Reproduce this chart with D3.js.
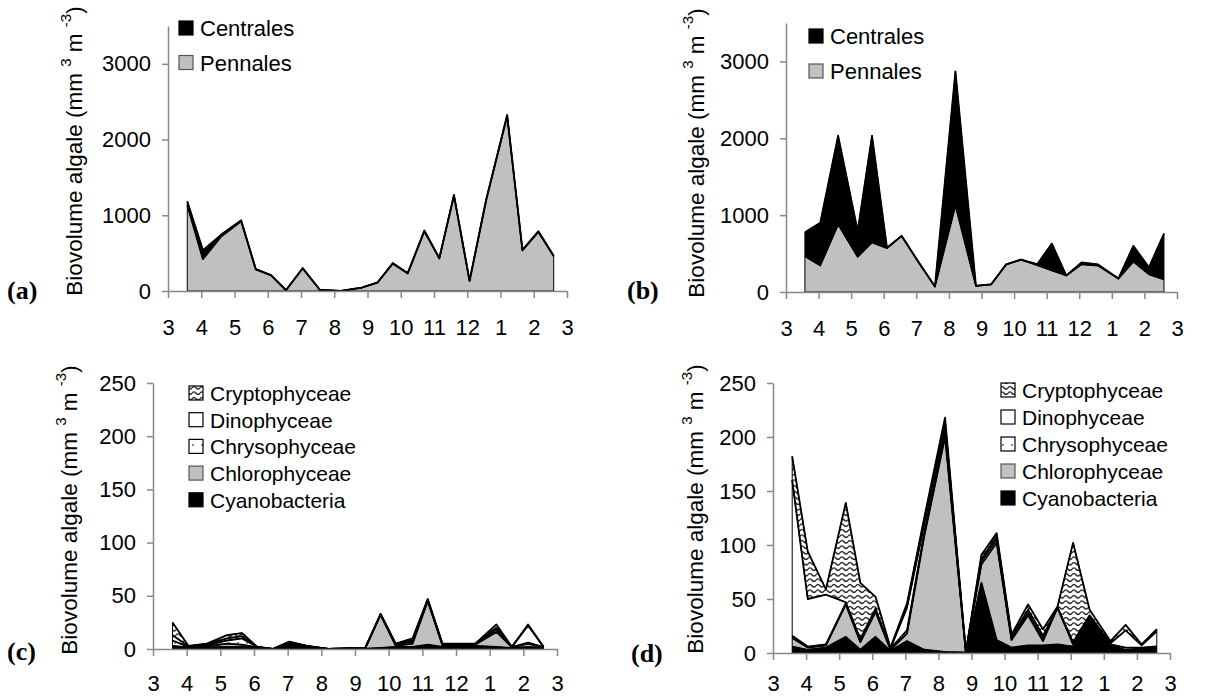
<!DOCTYPE html>
<html>
<head>
<meta charset="utf-8">
<script src="https://cdn.jsdelivr.net/npm/d3@7"></script>
<style>
body { margin: 0; background: #fff; }
text { font-family: "Liberation Sans", Arial, sans-serif; fill: #000; }
.axis path, .axis line { stroke: #888; stroke-width: 1.5; }
.axis text { font-size: 22px; font-family: "Liberation Sans", Arial, sans-serif; fill: #000; }
</style>
</head>
<body>
<svg id="fig" width="1222" height="699"></svg>
<script>
// sampling dates, in months counted from 1 March (0) to next March (12)
var months = [0.58, 1.05, 1.6, 2.2, 2.64, 3.1, 3.55, 4.05, 4.57, 5.2, 5.83, 6.3,
              6.76, 7.21, 7.71, 8.16, 8.6, 9.07, 9.57, 10.2, 10.66, 11.14, 11.6];
var monthLabels = ["3", "4", "5", "6", "7", "8", "9", "10", "11", "12", "1", "2", "3"];

// diatoms, mm3 m-3
var pennalesA  = [1134, 420, 720, 920, 285, 206, 10, 298, 13, 0, 44, 110, 360, 232, 789, 430, 1259, 132, 1200, 2310, 535, 780, 460];
var centralesA = [50, 120, 25, 15, 5, 5, 3, 5, 2, 2, 2, 3, 10, 5, 10, 5, 10, 5, 10, 15, 10, 10, 5];
var pennalesB  = [465, 345, 880, 458, 645, 572, 730, 400, 70, 1130, 80, 100, 360, 420, 350, 280, 215, 360, 345, 175, 395, 230, 165];
var centralesB = [313, 555, 1155, 337, 1390, 3, 0, 0, 0, 1740, 0, 0, 0, 0, 12, 350, 0, 25, 15, 0, 205, 92, 595];

// other groups, mm3 m-3
var cyanoC   = [2, 1, 1.5, 2, 2, 1, 0, 4, 2, 0, 0.3, 0.3, 1, 2, 2, 4, 2, 3, 3, 2, 1, 2, 1];
var chloroC  = [1, 0.5, 1, 3, 2, 0.5, 0, 1, 0.5, 0, 0.3, 0.3, 31, 1, 3, 41, 1, 1, 1, 14, 0.5, 3, 0.5];
var chrysoC  = [5, 0.5, 1, 3, 6, 0.5, 0, 1, 0.3, 0, 0, 0, 0.5, 1, 2, 1, 1, 0.5, 0.5, 2, 0.3, 1, 0.3];
var dinoC    = [5, 0.5, 1, 2, 2, 0, 0, 0.5, 0.2, 0, 0, 0, 0.3, 0.5, 1, 0.5, 0.5, 0.3, 0.3, 2, 0.2, 16, 0.2];
var cryptoC  = [12, 0.5, 0.5, 3, 3, 0, 0, 0.5, 0, 0, 0, 0, 0.2, 0.5, 2, 0.5, 0.5, 0.2, 0.2, 3, 0, 1, 0];

var cyanoD   = [6, 3, 5, 15, 3, 15, 2, 11, 3, 1, 0.5, 65, 12, 5, 7, 7, 8, 6, 30, 6, 2, 3, 5];
var chloroD  = [8, 2, 2, 30, 7, 23, 1, 7, 105, 199, 0.5, 17, 90, 7, 28, 4, 34, 2, 1, 1, 1, 1, 0];
var chrysoD  = [2, 1, 1, 1, 1, 1, 1, 3, 3, 6, 0, 3, 3, 1, 2, 2, 0, 1, 2, 1, 2, 1, 1];
var dinoD    = [144, 44, 46, 1, 2, 2, 0, 21, 8, 6, 0, 2, 3, 2, 3, 3, 0, 1, 2, 1, 16, 2, 14];
var cryptoD  = [22, 44, 5, 92, 52, 11, 1, 4, 6, 6, 0, 4, 3, 2, 5, 6, 1, 92, 5, 2, 5, 1, 2];

var diatomNames = ["Centrales", "Pennales"];
var groupNames = ["Cryptophyceae", "Dinophyceae", "Chrysophyceae", "Chlorophyceae", "Cyanobacteria"];

var svg = d3.select("#fig");
var defs = svg.append("defs");

// wavy hatch for Cryptophyceae
var wave = defs.append("pattern").attr("id", "wave")
  .attr("patternUnits", "userSpaceOnUse").attr("width", 8).attr("height", 5.5);
wave.append("rect").attr("width", 8).attr("height", 5.5).attr("fill", "#fff");
wave.append("path").attr("d", "M0,2.75 Q2,0.3 4,2.75 T8,2.75")
  .attr("fill", "none").attr("stroke", "#000").attr("stroke-width", 1.2);

// sparse dots for Chrysophyceae
var dots = defs.append("pattern").attr("id", "dots")
  .attr("patternUnits", "userSpaceOnUse").attr("width", 9).attr("height", 9);
dots.append("rect").attr("width", 9).attr("height", 9).attr("fill", "#fff");
dots.append("circle").attr("cx", 4).attr("cy", 4).attr("r", 0.8).attr("fill", "#000");

var fills = {
  "Pennales": "#c0c0c0", "Centrales": "#000",
  "Cyanobacteria": "#000", "Chlorophyceae": "#c0c0c0",
  "Chrysophyceae": "url(#dots)", "Dinophyceae": "#fff", "Cryptophyceae": "url(#wave)"
};

function makeRows(keys, arrays) {
  return months.map(function(m, i) {
    var row = { m: m };
    keys.forEach(function(k, j) { row[k] = arrays[j][i]; });
    return row;
  });
}

function drawPanel(p) {
  var x = d3.scaleLinear().domain([0, 12]).range([p.x0, p.x1]);
  var y = d3.scaleLinear().domain([0, p.ymax]).range([p.yb, p.yt]);
  var g = svg.append("g");

  var stacked = d3.stack().keys(p.keys)(p.rows);
  var area = d3.area()
    .x(function(d) { return x(d.data.m); })
    .y0(function(d) { return y(d[0]); })
    .y1(function(d) { return y(d[1]); });
  var line = d3.line()
    .x(function(d) { return x(d.data.m); })
    .y(function(d) { return y(d[1]); });

  g.selectAll(".layer").data(stacked).enter().append("path")
    .attr("d", area)
    .attr("fill", function(d) { return fills[d.key]; })
    .attr("stroke", "#000").attr("stroke-width", 1)
    .attr("stroke-linejoin", "round");
  g.selectAll(".edge").data(stacked).enter().append("path")
    .attr("d", line)
    .attr("fill", "none")
    .attr("stroke", "#000").attr("stroke-width", 1.8)
    .attr("stroke-linejoin", "round");

  // axes
  var xAxis = d3.axisBottom(x).tickValues(d3.range(0, 13))
    .tickFormat(function(d, i) { return monthLabels[i]; })
    .tickSizeInner(7).tickSizeOuter(0).tickPadding(p.xpad);
  g.append("g").attr("class", "axis")
    .attr("transform", "translate(0," + p.yb + ")").call(xAxis);

  var yAxis = d3.axisLeft(y).tickValues(p.yticks).tickFormat(d3.format("d"))
    .tickSizeInner(6).tickSizeOuter(0).tickPadding(11);
  g.append("g").attr("class", "axis")
    .attr("transform", "translate(" + p.x0 + ",0)").call(yAxis);

  // y title
  var t = g.append("text")
    .attr("transform", "translate(" + p.tx + "," + p.ty + ") rotate(-90)")
    .attr("text-anchor", "middle")
    .attr("dominant-baseline", "central")
    .style("font-size", "22.5px");
  t.append("tspan").text("Biovolume algale (mm ");
  t.append("tspan").attr("dy", -9).style("font-size", "15px").text("3");
  t.append("tspan").attr("dy", 9).text(" m ");
  t.append("tspan").attr("dy", -9).style("font-size", "15px").text("-3");
  t.append("tspan").attr("dy", 9).text(")");

  // panel letter
  g.append("text").attr("x", p.lx).attr("y", p.ly)
    .style("font-family", "'Liberation Serif', 'Times New Roman', serif")
    .style("font-weight", "bold").style("font-size", "26px")
    .text(p.letter);

  // legend
  var lg = g.append("g");
  p.legend.forEach(function(name, i) {
    var cy = p.legY + i * p.legStep;
    lg.append("rect").attr("x", p.legX).attr("y", cy - 7).attr("width", 14).attr("height", 14)
      .attr("fill", fills[name])
      .attr("stroke", name === "Chlorophyceae" || name === "Pennales" ? "#555" : "#000")
      .attr("stroke-width", 1.2);
    lg.append("text").attr("x", p.legX + 21).attr("y", cy + 8)
      .style("font-size", p.legFont + "px").text(name);
  });
}

drawPanel({
  letter: "(a)", lx: 7, ly: 299,
  x0: 168, x1: 567, yb: 291, yt: 26, ymax: 3500, yticks: [0, 1000, 2000, 3000], xpad: 21,
  keys: ["Pennales", "Centrales"], rows: makeRows(["Pennales", "Centrales"], [pennalesA, centralesA]),
  tx: 74, ty: 151,
  legend: diatomNames, legX: 179, legY: 28, legStep: 34.5, legFont: 22
});

drawPanel({
  letter: "(b)", lx: 627, ly: 299,
  x0: 786, x1: 1177, yb: 292, yt: 23, ymax: 3500, yticks: [0, 1000, 2000, 3000], xpad: 21,
  keys: ["Pennales", "Centrales"], rows: makeRows(["Pennales", "Centrales"], [pennalesB, centralesB]),
  tx: 696, ty: 153,
  legend: diatomNames, legX: 809, legY: 36, legStep: 35, legFont: 22
});

var groupKeys = ["Cyanobacteria", "Chlorophyceae", "Chrysophyceae", "Dinophyceae", "Cryptophyceae"];

drawPanel({
  letter: "(c)", lx: 7, ly: 660,
  x0: 153, x1: 557, yb: 649, yt: 383, ymax: 250, yticks: [0, 50, 100, 150, 200, 250], xpad: 19,
  keys: groupKeys, rows: makeRows(groupKeys, [cyanoC, chloroC, chrysoC, dinoC, cryptoC]),
  tx: 69, ty: 510,
  legend: groupNames, legX: 189, legY: 393, legStep: 26.7, legFont: 21
});

drawPanel({
  letter: "(d)", lx: 631, ly: 662,
  x0: 773, x1: 1170, yb: 653, yt: 383, ymax: 250, yticks: [0, 50, 100, 150, 200, 250], xpad: 15,
  keys: groupKeys, rows: makeRows(groupKeys, [cyanoD, chloroD, chrysoD, dinoD, cryptoD]),
  tx: 695, ty: 509,
  legend: groupNames, legX: 1001, legY: 390, legStep: 27, legFont: 21
});
</script>
</body>
</html>
